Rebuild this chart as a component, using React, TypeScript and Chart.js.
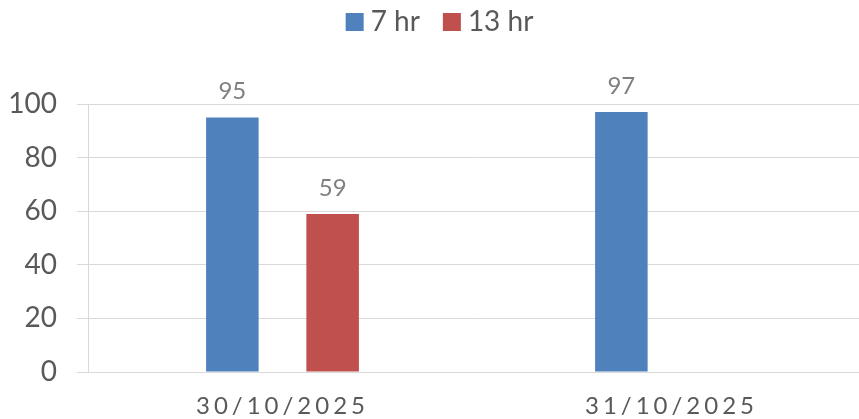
import React, { useEffect, useRef } from "react";
import { Chart, registerables } from "chart.js";

Chart.register(...registerables);

const categories = ["30/10/2025", "31/10/2025"];
const series7hr: (number | null)[] = [95, 97];
const series13hr: (number | null)[] = [59, null];
const seriesNames = ["7 hr", "13 hr"];
const yMin = 0;
const yMax = 100;
const yStep = 20;

const FONT = "Lato, 'Open Sans', sans-serif";

const valueLabels = {
  id: "valueLabels",
  afterDatasetsDraw(chart: any) {
    const ctx = chart.ctx;
    ctx.save();
    ctx.font = `24px ${FONT}`;
    ctx.fillStyle = "#7f7f7f";
    ctx.textAlign = "center";
    ctx.textBaseline = "alphabetic";
    chart.data.datasets.forEach((ds: any, i: number) => {
      const meta = chart.getDatasetMeta(i);
      meta.data.forEach((el: any, j: number) => {
        const v = ds.data[j];
        if (v == null) return;
        ctx.fillText(String(v), el.x, el.y - 18);
      });
    });
    ctx.restore();
  },
};

const layoutTweaks = {
  id: "layoutTweaks",
  beforeLayout(chart: any) {
    const lg = chart.legend;
    if (lg && !lg.__patched) {
      const orig = lg.fit.bind(lg);
      lg.fit = () => {
        orig();
        lg.height = 104;
      };
      lg.__patched = true;
    }
  },
  afterLayout(chart: any) {
    const lg = chart.legend;
    if (lg) {
      lg.top = -22;
      lg.left += 10;
      lg.right += 10;
    }
  },
  beforeDraw(chart: any) {
    const sc: any = chart.scales.x;
    if (sc && !sc.__ls) {
      const orig = sc.drawLabels.bind(sc);
      sc.drawLabels = (area: any) => {
        const ctx: any = chart.ctx;
        ctx.save();
        ctx.letterSpacing = "4px";
        orig(area);
        ctx.restore();
      };
      sc.__ls = true;
    }
  },
};

export default function App() {
  const ref = useRef<HTMLCanvasElement | null>(null);

  useEffect(() => {
    if (!ref.current) return;
    const chart = new Chart(ref.current, {
      type: "bar",
      data: {
        labels: categories,
        datasets: [
          {
            label: seriesNames[0],
            data: series7hr,
            backgroundColor: "#4f81bd",
            borderWidth: 0,
            categoryPercentage: 0.5156,
            barPercentage: 0.524,
          },
          {
            label: seriesNames[1],
            data: series13hr,
            backgroundColor: "#c0504d",
            borderWidth: 0,
            categoryPercentage: 0.5156,
            barPercentage: 0.524,
          },
        ],
      },
      options: {
        responsive: false,
        animation: false,
        devicePixelRatio: 1,
        layout: { padding: 0 },
        plugins: {
          tooltip: { enabled: false },
          legend: {
            position: "top",
            labels: {
              usePointStyle: true,
              pointStyle: "rect",
              boxWidth: 4,
              boxHeight: 18,
              padding: 30,
              color: "#595959",
              font: { family: FONT, size: 28 },
            },
          },
        },
        scales: {
          x: {
            grid: { display: false, drawTicks: false },
            border: { display: true, color: "#d9d9d9", width: 1 },
            ticks: {
              color: "#595959",
              font: { family: FONT, size: 24 },
              padding: 20,
              maxRotation: 0,
              autoSkip: false,
            },
            afterFit: (scale: any) => {
              scale.height = 47;
            },
          },
          y: {
            min: yMin,
            max: yMax,
            grid: {
              color: "#d9d9d9",
              lineWidth: 1,
              drawTicks: true,
              tickLength: 11,
            },
            border: { display: true, color: "#d9d9d9", width: 1 },
            ticks: {
              stepSize: yStep,
              color: "#595959",
              font: { family: FONT, size: 28 },
              padding: 20,
            },
            afterFit: (scale: any) => {
              scale.width = 88;
            },
          },
        },
      },
      plugins: [valueLabels, layoutTweaks],
    });
    return () => chart.destroy();
  }, []);

  return (
    <div
      style={{
        position: "absolute",
        left: 0,
        top: 0,
        width: 859,
        height: 419,
        overflow: "hidden",
        background: "#ffffff",
      }}
    >
      <canvas ref={ref} width={866} height={419} style={{ display: "block" }} />
    </div>
  );
}
